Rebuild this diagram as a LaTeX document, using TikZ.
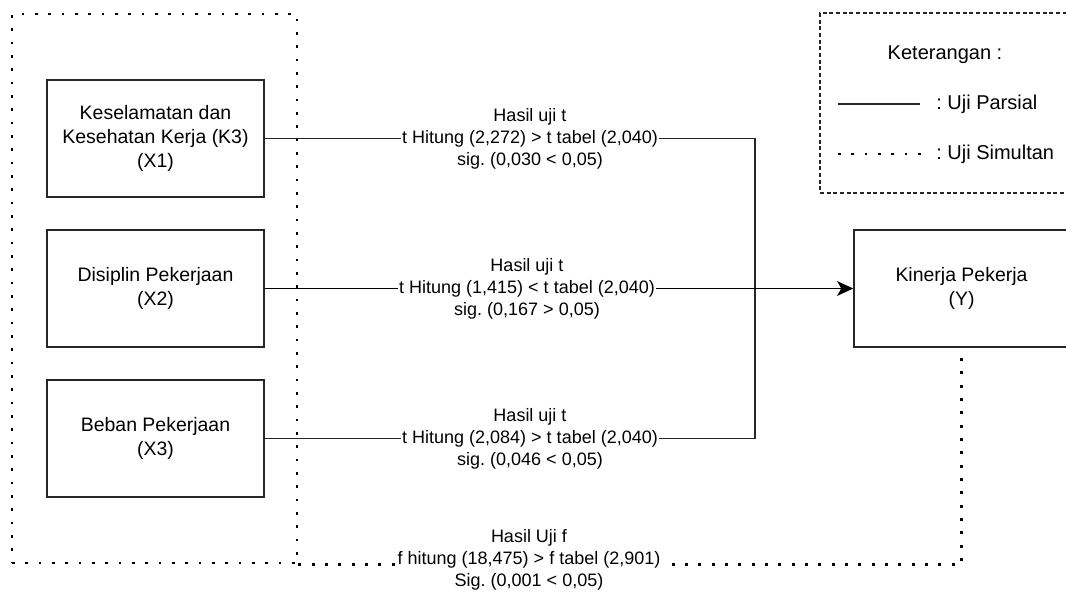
\documentclass[tikz,border=0pt]{standalone}
\usepackage{fontspec}
\setmainfont{Liberation Sans}
\usetikzlibrary{arrows.meta}
\frenchspacing
\begin{document}
\begin{tikzpicture}[x=0.75pt,y=-0.75pt,
  box/.style={draw=black!85, line width=1.2pt, minimum width=162.75pt, minimum height=87.75pt, align=center, font=\fontsize{14.6}{18}\selectfont, inner sep=0pt},
  conn/.style={draw=black!85, line width=1.2pt},
  lbl/.style={fill=white, align=center, font=\fontsize{13.5}{16.5}\selectfont, inner xsep=1pt, inner ysep=0pt},
  dotline/.style={draw=black, line width=2.1pt, dash pattern=on 2.1pt off 7.9pt},
  dashline/.style={draw=black!85, line width=0.8pt, dash pattern=on 3pt off 2pt},
  legtxt/.style={font=\fontsize{15}{18}\selectfont, inner sep=0pt}]
\useasboundingbox (0,0) rectangle (1066,596);
\clip (0,0) rectangle (1066,596);
% group (dotted) and legend (dashed)
\node (grp) [dotline, minimum width=213.75pt, minimum height=411.75pt, inner sep=0pt] at (154.5,288.5) {};
\node (leg) [dashline, minimum width=195pt, minimum height=135pt, inner sep=0pt] at (950,103) {};
% boxes
\node (x1) [box] at (155.5,138.5) {Keselamatan dan\\Kesehatan Kerja (K3)\\(X1)};
\node (x2) [box] at (155.5,288.5) {Disiplin Pekerjaan\\(X2)};
\node (x3) [box] at (155.5,438.5) {Beban Pekerjaan\\(X3)};
\node (y) [box, minimum width=161.25pt] at (961.5,288.5) {Kinerja Pekerja\\(Y)};
\coordinate (j) at (755,288.5);
% connectors
\draw[conn] (x1.east) -| (j);
\draw[conn] (x3.east) -| (j);
\draw[conn, draw=black, line width=1.4pt, -{Stealth[length=12pt,width=11pt,inset=3pt]}] (x2.east) -- (y.west);
\draw[dotline] (grp.south east) -| (y.south);
% labels
\node (l1) [lbl] at (530,139) {Hasil uji t\\t Hitung (2,272) > t tabel (2,040)\\sig. (0,030 < 0,05)};
\node (l2) [lbl] at (527,289) {Hasil uji t\\t Hitung (1,415) < t tabel (2,040)\\sig. (0,167 > 0,05)};
\node (l3) [lbl] at (530,439) {Hasil uji t\\t Hitung (2,084) > t tabel (2,040)\\sig. (0,046 < 0,05)};
\node (l4) [lbl] at (529,560) {Hasil Uji f\\f hitung (18,475) > f tabel (2,901)\\Sig. (0,001 < 0,05)};
% legend
\node (kt) [legtxt] at (945,55) {Keterangan :};
\coordinate (pa) at (838,104);
\coordinate (pb) at (920,104);
\coordinate (sa) at (838,154);
\coordinate (sb) at (922,154);
\draw[conn] (pa) -- (pb);
\draw[dotline] (sa) -- (sb);
\node (tp) [legtxt, anchor=west] at (936,104) {: Uji Parsial};
\node (ts) [legtxt, anchor=west] at (936,154) {: Uji Simultan};
\end{tikzpicture}
\end{document}
